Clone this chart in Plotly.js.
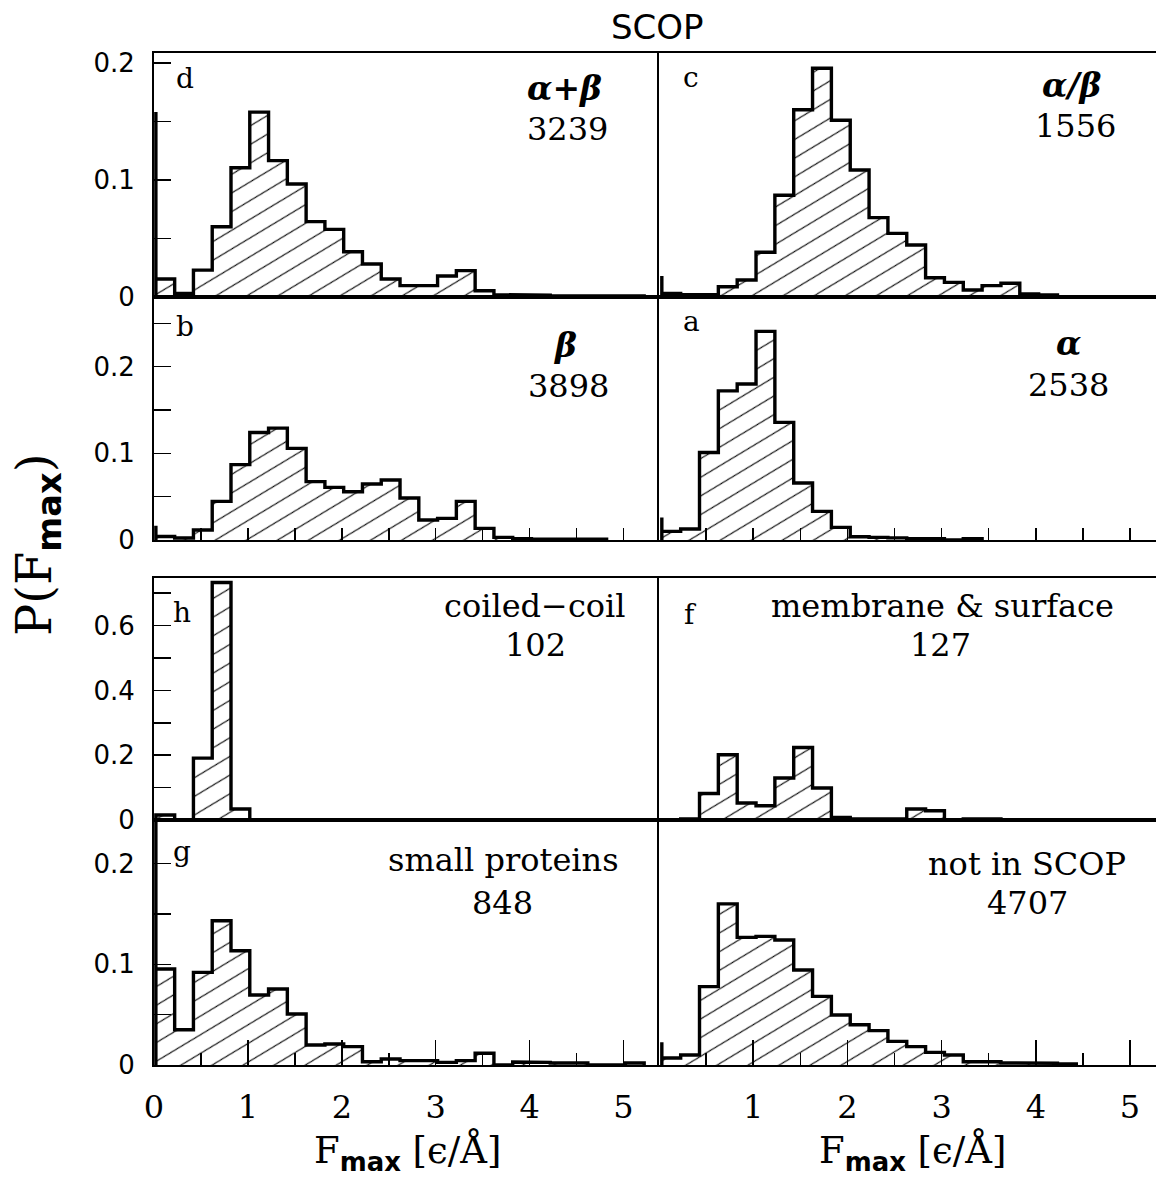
<!DOCTYPE html>
<html><head><meta charset="utf-8">
<script src="https://cdn.plot.ly/plotly-3.0.1.min.js"></script>
<style>html,body{margin:0;padding:0;background:#fff}</style>
</head><body>
<div id="chart" style="width:1156px;height:1185px"></div>
<script>
// ---- data ----
const binWidth = 0.2;
const binOrigin = [0.02, 0.03];          // left column, right column
const panelLetters = ['d', 'c', 'b', 'a', 'h', 'f', 'g', ''];
const classNames = ['<b><i>α+β</i></b>', '<b><i>α/β</i></b>', '<b><i>β</i></b>', '<b><i>α</i></b>',
  'coiled−coil', 'membrane & surface', 'small proteins', 'not in SCOP'];
const proteinCounts = ['3239', '1556', '3898', '2538', '102', '127', '848', '4707'];
const spikeHeights = [0.158, 0.018, 0.0165, 0.026, 0.0154, 0.003, 0.30, 0.0225];

const alphaPlusBeta = [0.0154, 0.003, 0.023, 0.060, 0.1105, 0.158, 0.1165, 0.0966, 0.0644, 0.0578,
  0.0387, 0.0282, 0.0154, 0.0097, 0.0097, 0.018, 0.0225, 0.0054, 0.002, 0.0015, 0.0015, 0.001,
  0.0005, 0.001, 0.001, 0.001];
const alphaSlashBeta = [0.003, 0.002, 0.002, 0.0088, 0.0145, 0.0382, 0.087, 0.160, 0.1955, 0.151,
  0.1085, 0.0678, 0.0544, 0.0444, 0.0165, 0.0125, 0.006, 0.0097, 0.0117, 0.0026, 0.0017];
const betaOnly = [0.004, 0.0023, 0.0115, 0.0445, 0.0869, 0.124, 0.129, 0.1057, 0.0673, 0.0607,
  0.0557, 0.0646, 0.0692, 0.0484, 0.023, 0.0249, 0.0445, 0.0134, 0.003, 0.0015, 0.001, 0.001,
  0.001, 0.001];
const alphaOnly = [0.010, 0.0127, 0.101, 0.172, 0.18, 0.2406, 0.1357, 0.0657, 0.033, 0.0146,
  0.0038, 0.003, 0.0025, 0.0015, 0.0015, 0, 0.0015];
const coiledCoil = [0.0154, 0, 0.191, 0.733, 0.034];
const membraneSurface = [0, 0.003, 0.082, 0.2015, 0.0525, 0.044, 0.1296, 0.224, 0.0988, 0.008,
  0.003, 0.003, 0.003, 0.034, 0.0287, 0, 0.003, 0.003];
const smallProteins = [0.0953, 0.035, 0.092, 0.1433, 0.1135, 0.0695, 0.0755, 0.0506, 0.0199,
  0.0209, 0.0182, 0.0033, 0.006, 0.0043, 0.0043, 0.0026, 0.0043, 0.0116, 0, 0.003, 0.0026,
  0.002, 0.002, 0, 0, 0.002];
const notInScop = [0.007, 0.0099, 0.0778, 0.16, 0.1267, 0.1277, 0.1241, 0.0943, 0.0681, 0.0497,
  0.04, 0.0341, 0.0235, 0.0182, 0.0125, 0.0099, 0.0033, 0.0033, 0.002, 0.002, 0.0018, 0.001];

const panelSeries = [alphaPlusBeta, alphaSlashBeta, betaOnly, alphaOnly,
  coiledCoil, membraneSurface, smallProteins, notInScop];

const yTickStep = [0.1, 0.1, 0.2, 0.1];
const yMinorStep = [0.05, 0.05, 0.1, 0.05];
const xTickValsLeft = [0, 1, 2, 3, 4, 5];
const xTickValsRight = [1, 2, 3, 4, 5];

// ---- layout geometry (pixels) ----
const W = 1156, H = 1185;
const colPx = [[154, 659], [659, 1156]];
const rowPx = [[53, 297], [297, 540], [578, 820], [820, 1065]];
const xMax = [5.378, 5.276];
const yMax = [0.2085, 0.2803, 0.747, 0.2433];

const px = x => x / W;
const py = y => 1 - y / H;

function stepPath(origin, spike, vals) {
  const xs = [origin, origin, origin], ys = [0, spike, vals[0]];
  for (let k = 0; k < vals.length; k++) {
    const x0 = origin + k * binWidth, x1 = origin + (k + 1) * binWidth;
    xs.push(x0, x1); ys.push(vals[k], vals[k]);
  }
  xs.push(origin + vals.length * binWidth); ys.push(0);
  return { xs, ys };
}

const traces = [];
const layout = {
  width: W, height: H, margin: { l: 0, r: 0, t: 0, b: 0 },
  paper_bgcolor: '#fff', plot_bgcolor: 'rgba(0,0,0,0)', showlegend: false,
  annotations: [], font: { family: 'DejaVu Sans', color: '#000' }
};

const serif = 'DejaVu Serif';
for (let i = 0; i < 8; i++) {
  const row = Math.floor(i / 2), col = i % 2;
  const n = i + 1;
  const xa = n === 1 ? 'x' : 'x' + n, ya = n === 1 ? 'y' : 'y' + n;
  const p = stepPath(binOrigin[col], spikeHeights[i], panelSeries[i]);
  traces.push({
    type: 'scatter', mode: 'lines', x: p.xs, y: p.ys, xaxis: xa, yaxis: ya,
    line: { color: '#000', width: 3.4 }, fill: 'tozeroy', fillcolor: 'rgba(0,0,0,0)',
    fillpattern: { shape: '/', size: 16, solidity: 0.07, fgcolor: '#000', bgcolor: 'rgba(0,0,0,0)' },
    hoverinfo: 'skip'
  });

  const xKey = n === 1 ? 'xaxis' : 'xaxis' + n, yKey = n === 1 ? 'yaxis' : 'yaxis' + n;
  const xAxis = {
    domain: [px(colPx[col][0]), px(colPx[col][1])], range: [0, xMax[col]],
    anchor: ya, showline: true, mirror: true, linecolor: '#000', linewidth: 2,
    showgrid: false, zeroline: false, ticks: '', showticklabels: false, fixedrange: true
  };
  if (row === 1) {
    Object.assign(xAxis, { ticks: 'inside', tick0: 0, dtick: 0.5, ticklen: 12, tickwidth: 1.5, tickcolor: '#000' });
  }
  if (row === 3) {
    Object.assign(xAxis, {
      ticks: 'inside', tickmode: 'array', tickvals: col === 0 ? xTickValsLeft : xTickValsRight,
      ticklen: 25, tickwidth: 1.5, tickcolor: '#000', showticklabels: true,
      tickfont: { family: serif, size: 32, color: '#000' }, ticklabelstandoff: 13,
      minor: { ticks: 'inside', tick0: 0, dtick: 0.5, ticklen: 12, tickwidth: 1.5, tickcolor: '#000' }
    });
  }
  const yAxis = {
    domain: [py(rowPx[row][1]), py(rowPx[row][0])], range: [0, yMax[row]],
    anchor: xa, showline: true, mirror: false, linecolor: '#000', linewidth: 2,
    showgrid: false, zeroline: false, ticks: '', showticklabels: false, fixedrange: true
  };
  if (col === 0) {
    Object.assign(yAxis, {
      ticks: 'inside', tick0: 0, dtick: yTickStep[row], ticklen: 17, tickwidth: 1.5, tickcolor: '#000',
      showticklabels: true, tickfont: { family: 'DejaVu Sans', size: 26, color: '#000' },
      ticklabelstandoff: 12,
      minor: { ticks: 'inside', tick0: 0, dtick: yMinorStep[row], ticklen: 17, tickwidth: 1.5, tickcolor: '#000' }
    });
  }
  layout[xKey] = xAxis;
  layout[yKey] = yAxis;
}

// ---- text positions (pixels) ----
const letterPos = [[185, 78], [691, 77], [185, 326], [691, 322], [182, 612], [690, 614], [182, 852], [0, 0]];
const namePos = [[564, 89], [1071, 86], [565, 345], [1068, 343], [535, 606], [942, 606], [503, 860], [1027, 864]];
const countPos = [[567, 129], [1075, 126], [568, 386], [1068, 385], [535, 645], [940, 645], [502, 903], [1027, 903]];

function ann(text, x, y, size, family, extra) {
  layout.annotations.push(Object.assign({
    text, x: px(x), y: py(y), xref: 'paper', yref: 'paper', showarrow: false,
    xanchor: 'center', yanchor: 'middle', font: { family, size, color: '#000' }
  }, extra || {}));
}
for (let i = 0; i < 8; i++) {
  if (panelLetters[i]) ann(panelLetters[i], letterPos[i][0], letterPos[i][1], 28, serif);
  const isGreek = i < 4;
  ann(classNames[i], namePos[i][0], namePos[i][1], isGreek ? 33 : 32, serif);
  ann(proteinCounts[i], countPos[i][0], countPos[i][1], 32, serif);
}
ann('SCOP', 658, 27, 34, 'DejaVu Sans');
const xTitle = 'F<sub><span style="font-family:DejaVu Sans;font-weight:bold">max</span></sub> [ϵ/Å]';
ann(xTitle, 407, 1152, 37, serif);
ann(xTitle, 912, 1152, 37, serif);
ann('P(F<sub><span style="font-family:DejaVu Sans;font-weight:bold">max</span></sub>)', 38, 545, 48, serif, { textangle: -90 });

Plotly.newPlot('chart', traces, layout, { staticPlot: true }).then(gd => {
  gd.querySelectorAll('pattern').forEach(p => p.setAttribute('patternTransform', 'rotate(14)'));
});
</script>
</body></html>
